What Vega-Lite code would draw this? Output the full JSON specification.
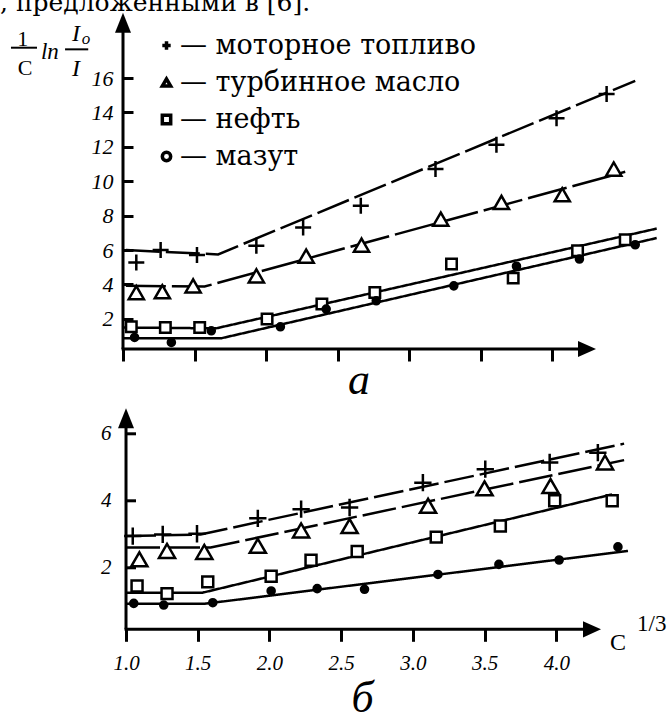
{
  "$schema": "https://vega.github.io/schema/vega-lite/v6.json",
  "padding": {"left": -1, "top": -10, "right": 0, "bottom": -7},
  "spacing": 59.3,
  "bounds": "flush",
  "config": {
    "view": {"stroke": null},
    "axis": {"domain": false, "grid": false, "tickColor": "black", "labelColor": "black", "tickWidth": 3, "title": null},
    "font": "DejaVu Serif"
  },
  "resolve": {"scale": {"shape": "independent", "fill": "independent", "size": "independent", "strokeDash": "independent"}, "legend": {"shape": "independent", "fill": "independent"}},
  "datasets": {
    "pts": [
      {"p": "a", "s": "моторное топливо", "x": 1.093, "y": 5.28},
      {"p": "a", "s": "моторное топливо", "x": 1.263, "y": 6.0},
      {"p": "a", "s": "моторное топливо", "x": 1.517, "y": 5.71},
      {"p": "a", "s": "моторное топливо", "x": 1.932, "y": 6.25},
      {"p": "a", "s": "моторное топливо", "x": 2.259, "y": 7.31},
      {"p": "a", "s": "моторное топливо", "x": 2.662, "y": 8.58},
      {"p": "a", "s": "моторное топливо", "x": 3.184, "y": 10.71},
      {"p": "a", "s": "моторное топливо", "x": 3.61, "y": 12.12},
      {"p": "a", "s": "моторное топливо", "x": 4.03, "y": 13.67},
      {"p": "a", "s": "моторное топливо", "x": 4.38, "y": 15.07},
      {"p": "a", "s": "турбинное масло", "x": 1.093, "y": 3.53},
      {"p": "a", "s": "турбинное масло", "x": 1.275, "y": 3.58},
      {"p": "a", "s": "турбинное масло", "x": 1.49, "y": 3.92},
      {"p": "a", "s": "турбинное масло", "x": 1.932, "y": 4.5},
      {"p": "a", "s": "турбинное масло", "x": 2.28, "y": 5.65},
      {"p": "a", "s": "турбинное масло", "x": 2.667, "y": 6.29},
      {"p": "a", "s": "турбинное масло", "x": 3.221, "y": 7.8},
      {"p": "a", "s": "турбинное масло", "x": 3.645, "y": 8.77},
      {"p": "a", "s": "турбинное масло", "x": 4.07, "y": 9.22},
      {"p": "a", "s": "турбинное масло", "x": 4.43, "y": 10.71},
      {"p": "a", "s": "нефть", "x": 1.058, "y": 1.54},
      {"p": "a", "s": "нефть", "x": 1.296, "y": 1.5},
      {"p": "a", "s": "нефть", "x": 1.536, "y": 1.5},
      {"p": "a", "s": "нефть", "x": 2.007, "y": 1.99},
      {"p": "a", "s": "нефть", "x": 2.39, "y": 2.86},
      {"p": "a", "s": "нефть", "x": 2.76, "y": 3.53},
      {"p": "a", "s": "нефть", "x": 3.296, "y": 5.19},
      {"p": "a", "s": "нефть", "x": 3.727, "y": 4.37},
      {"p": "a", "s": "нефть", "x": 4.177, "y": 5.96},
      {"p": "a", "s": "нефть", "x": 4.51, "y": 6.6},
      {"p": "a", "s": "мазут", "x": 1.081, "y": 0.92},
      {"p": "a", "s": "мазут", "x": 1.338, "y": 0.63},
      {"p": "a", "s": "мазут", "x": 1.617, "y": 1.31},
      {"p": "a", "s": "мазут", "x": 2.1, "y": 1.54},
      {"p": "a", "s": "мазут", "x": 2.42, "y": 2.57},
      {"p": "a", "s": "мазут", "x": 2.77, "y": 3.05},
      {"p": "a", "s": "мазут", "x": 3.312, "y": 3.92},
      {"p": "a", "s": "мазут", "x": 3.75, "y": 5.06},
      {"p": "a", "s": "мазут", "x": 4.19, "y": 5.48},
      {"p": "a", "s": "мазут", "x": 4.58, "y": 6.31},
      {"p": "b", "s": "моторное топливо", "x": 1.047, "y": 2.94},
      {"p": "b", "s": "моторное топливо", "x": 1.256, "y": 2.99},
      {"p": "b", "s": "моторное топливо", "x": 1.495, "y": 3.01},
      {"p": "b", "s": "моторное топливо", "x": 1.919, "y": 3.47},
      {"p": "b", "s": "моторное топливо", "x": 2.221, "y": 3.74},
      {"p": "b", "s": "моторное топливо", "x": 2.559, "y": 3.79},
      {"p": "b", "s": "моторное топливо", "x": 3.07, "y": 4.53},
      {"p": "b", "s": "моторное топливо", "x": 3.505, "y": 4.93},
      {"p": "b", "s": "моторное топливо", "x": 3.954, "y": 5.13},
      {"p": "b", "s": "моторное топливо", "x": 4.29, "y": 5.42},
      {"p": "b", "s": "турбинное масло", "x": 1.093, "y": 2.25},
      {"p": "b", "s": "турбинное масло", "x": 1.286, "y": 2.5},
      {"p": "b", "s": "турбинное масло", "x": 1.546, "y": 2.47},
      {"p": "b", "s": "турбинное масло", "x": 1.919, "y": 2.65},
      {"p": "b", "s": "турбинное масло", "x": 2.221, "y": 3.11},
      {"p": "b", "s": "турбинное масло", "x": 2.559, "y": 3.24},
      {"p": "b", "s": "турбинное масло", "x": 3.106, "y": 3.84},
      {"p": "b", "s": "турбинное масло", "x": 3.5, "y": 4.36},
      {"p": "b", "s": "турбинное масло", "x": 3.96, "y": 4.43},
      {"p": "b", "s": "турбинное масло", "x": 4.34, "y": 5.13},
      {"p": "b", "s": "нефть", "x": 1.077, "y": 1.46},
      {"p": "b", "s": "нефть", "x": 1.286, "y": 1.23},
      {"p": "b", "s": "нефть", "x": 1.57, "y": 1.58},
      {"p": "b", "s": "нефть", "x": 2.012, "y": 1.75},
      {"p": "b", "s": "нефть", "x": 2.29, "y": 2.22},
      {"p": "b", "s": "нефть", "x": 2.612, "y": 2.48},
      {"p": "b", "s": "нефть", "x": 3.163, "y": 2.91},
      {"p": "b", "s": "нефть", "x": 3.61, "y": 3.24},
      {"p": "b", "s": "нефть", "x": 3.989, "y": 3.99},
      {"p": "b", "s": "нефть", "x": 4.39, "y": 3.99},
      {"p": "b", "s": "мазут", "x": 1.054, "y": 0.94},
      {"p": "b", "s": "мазут", "x": 1.263, "y": 0.89},
      {"p": "b", "s": "мазут", "x": 1.605, "y": 0.96},
      {"p": "b", "s": "мазут", "x": 2.012, "y": 1.31},
      {"p": "b", "s": "мазут", "x": 2.333, "y": 1.38},
      {"p": "b", "s": "мазут", "x": 2.663, "y": 1.36},
      {"p": "b", "s": "мазут", "x": 3.175, "y": 1.8},
      {"p": "b", "s": "мазут", "x": 3.6, "y": 2.1},
      {"p": "b", "s": "мазут", "x": 4.02, "y": 2.23},
      {"p": "b", "s": "мазут", "x": 4.43, "y": 2.62}
    ],
    "fits": [
      {"p": "a", "s": "моторное топливо", "x": 1.02, "y": 6.0},
      {"p": "a", "s": "моторное топливо", "x": 1.665, "y": 5.75},
      {"p": "a", "s": "моторное топливо", "x": 4.58, "y": 15.84},
      {"p": "a", "s": "турбинное масло", "x": 1.02, "y": 3.92},
      {"p": "a", "s": "турбинное масло", "x": 1.57, "y": 3.88},
      {"p": "a", "s": "турбинное масло", "x": 4.51, "y": 10.55},
      {"p": "a", "s": "нефть", "x": 1.0, "y": 1.5},
      {"p": "a", "s": "нефть", "x": 1.65, "y": 1.45},
      {"p": "a", "s": "нефть", "x": 4.73, "y": 7.25},
      {"p": "a", "s": "мазут", "x": 1.0, "y": 0.88},
      {"p": "a", "s": "мазут", "x": 1.69, "y": 0.88},
      {"p": "a", "s": "мазут", "x": 4.73, "y": 6.7},
      {"p": "b", "s": "моторное топливо", "x": 1.0, "y": 2.94},
      {"p": "b", "s": "моторное топливо", "x": 1.52, "y": 2.99},
      {"p": "b", "s": "моторное топливо", "x": 4.473, "y": 5.69},
      {"p": "b", "s": "турбинное масло", "x": 1.0, "y": 2.6},
      {"p": "b", "s": "турбинное масло", "x": 1.59, "y": 2.6},
      {"p": "b", "s": "турбинное масло", "x": 4.473, "y": 5.2},
      {"p": "b", "s": "нефть", "x": 1.0, "y": 1.26},
      {"p": "b", "s": "нефть", "x": 1.535, "y": 1.26},
      {"p": "b", "s": "нефть", "x": 4.39, "y": 4.18},
      {"p": "b", "s": "мазут", "x": 1.0, "y": 0.93},
      {"p": "b", "s": "мазут", "x": 1.55, "y": 0.93},
      {"p": "b", "s": "мазут", "x": 4.5, "y": 2.5}
    ]
  },
  "vconcat": [
    {
      "width": 548,
      "height": 348,
      "layer": [
        {
          "data": {"name": "fits"},
          "transform": [{"filter": "datum.p == 'a'"}],
          "mark": {"type": "line", "strokeWidth": 2.5, "color": "black"},
          "encoding": {
            "x": {"field": "x", "type": "quantitative", "scale": {"domain": [1, 4.83], "nice": false, "zero": false},
                  "axis": {"values": [1, 1.5, 2, 2.5, 3, 3.5, 4], "labels": false, "tickSize": 12, "title": null}},
            "y": {"field": "y", "type": "quantitative", "scale": {"domain": [0.25, 20.48], "nice": false, "zero": false},
                  "axis": {"values": [2, 4, 6, 8, 10, 12, 14, 16], "tickSize": -10, "labelPadding": 20, "labelFont": "Liberation Serif", "labelFontStyle": "italic", "labelFontSize": 22, "labelOverlap": false, "title": null}},
            "detail": {"field": "s"},
            "strokeDash": {"field": "s", "type": "nominal", "legend": null,
                           "scale": {"type": "ordinal", "range": [[1, 0], [34, 6], [1, 0], [40, 6]]}}
          }
        },
        {
          "data": {"name": "pts"},
          "transform": [{"filter": "datum.p == 'a'"}],
          "mark": {"type": "point", "filled": false, "color": "black", "stroke": "black", "strokeWidth": 2.5, "opacity": 1},
          "encoding": {
            "x": {"field": "x", "type": "quantitative"},
            "y": {"field": "y", "type": "quantitative"},
            "shape": {"field": "s", "type": "nominal",
                      "scale": {"domain": ["моторное топливо", "турбинное масло", "нефть", "мазут"], "range": ["M-1,0H1M0,-1V1", "triangle-up", "square", "circle"]},
                      "legend": {"orient": "none", "legendX": 30, "legendY": 31, "title": null, "padding": 0, "labelFont": "DejaVu Serif", "labelFontSize": 27, "labelColor": "black", "labelLimit": 0, "labelExpr": "'— ' + datum.label", "symbolStrokeColor": "black", "symbolFillColor": "white", "symbolStrokeWidth": 3.5, "symbolSize": 70, "symbolOpacity": 1, "rowPadding": 9, "labelOffset": 0}},
            "fill": {"field": "s", "type": "nominal", "legend": null,
                     "scale": {"type": "ordinal", "range": ["black", "white", "white", "white"]}},
            "size": {"field": "s", "type": "nominal", "legend": null,
                     "scale": {"type": "ordinal", "range": [50, 256, 110, 230]}}
          }
        },
        {
          "data": {"values": [{}]},
          "mark": {"type": "rule", "strokeWidth": 3, "color": "black"},
          "encoding": {"x": {"datum": 1}, "y": {"datum": 0.25}, "y2": {"datum": 19.0}}
        },
        {
          "data": {"values": [{}]},
          "mark": {"type": "rule", "strokeWidth": 3, "color": "black"},
          "encoding": {"x": {"datum": 0.99}, "x2": {"datum": 4.2}, "y": {"datum": 0.25}}
        },
        {
          "data": {"values": [{}]},
          "mark": {"type": "point", "shape": "M0,0L-0.4,1L0.4,1Z", "size": 1600, "filled": true, "color": "black", "opacity": 1, "strokeWidth": 0},
          "encoding": {"x": {"datum": 1}, "y": {"datum": 19.8}}
        },
        {
          "data": {"values": [{}]},
          "mark": {"type": "point", "shape": "M0,0L-1,-0.45L-1,0.45Z", "size": 1296, "filled": true, "color": "black", "opacity": 1, "strokeWidth": 0},
          "encoding": {"x": {"datum": 4.306}, "y": {"datum": 0.25}}
        },
        {
          "data": {"values": [{}]},
          "mark": {"type": "text", "text": ", предложенными в [6].", "font": "DejaVu Serif", "fontSize": 25, "align": "left", "baseline": "alphabetic", "color": "black"},
          "encoding": {"x": {"datum": 0.1403}, "y": {"datum": 19.9}}
        },
        {
          "data": {"values": [{}]},
          "mark": {"type": "text", "text": "1", "font": "Liberation Serif", "fontSize": 22, "align": "center", "baseline": "middle", "color": "black"},
          "encoding": {"x": {"datum": 0.299}, "y": {"datum": 18.25}}
        },
        {
          "data": {"values": [{}]},
          "mark": {"type": "text", "text": "C", "font": "Liberation Serif", "fontSize": 22, "align": "center", "baseline": "middle", "color": "black"},
          "encoding": {"x": {"datum": 0.315}, "y": {"datum": 16.61}}
        },
        {
          "data": {"values": [{}]},
          "mark": {"type": "text", "text": "ln", "font": "Liberation Serif", "fontStyle": "italic", "fontSize": 23, "align": "center", "baseline": "middle", "color": "black"},
          "encoding": {"x": {"datum": 0.489}, "y": {"datum": 17.51}}
        },
        {
          "data": {"values": [{}]},
          "mark": {"type": "text", "text": "I", "font": "Liberation Serif", "fontStyle": "italic", "fontSize": 24, "align": "center", "baseline": "middle", "color": "black"},
          "encoding": {"x": {"datum": 0.671}, "y": {"datum": 18.56}}
        },
        {
          "data": {"values": [{}]},
          "mark": {"type": "text", "text": "o", "font": "Liberation Serif", "fontStyle": "italic", "fontSize": 17, "align": "center", "baseline": "middle", "color": "black"},
          "encoding": {"x": {"datum": 0.741}, "y": {"datum": 18.30}}
        },
        {
          "data": {"values": [{}]},
          "mark": {"type": "text", "text": "I", "font": "Liberation Serif", "fontStyle": "italic", "fontSize": 24, "align": "center", "baseline": "middle", "color": "black"},
          "encoding": {"x": {"datum": 0.671}, "y": {"datum": 16.55}}
        },
        {
          "data": {"values": [{}]},
          "mark": {"type": "rule", "strokeWidth": 2, "color": "black"},
          "encoding": {"x": {"datum": 0.217}, "x2": {"datum": 0.399}, "y": {"datum": 17.765}}
        },
        {
          "data": {"values": [{}]},
          "mark": {"type": "rule", "strokeWidth": 2, "color": "black"},
          "encoding": {"x": {"datum": 0.595}, "x2": {"datum": 0.757}, "y": {"datum": 17.67}}
        },
        {
          "data": {"values": [{}]},
          "mark": {"type": "text", "text": "а", "font": "Liberation Serif", "fontStyle": "italic", "fontSize": 44, "align": "center", "baseline": "alphabetic", "color": "black"},
          "encoding": {"x": {"datum": 2.649}, "y": {"datum": -2.37}}
        }
      ]
    },
    {
      "width": 548,
      "height": 221,
      "layer": [
        {
          "data": {"name": "fits"},
          "transform": [{"filter": "datum.p == 'b'"}],
          "mark": {"type": "line", "strokeWidth": 2.5, "color": "black"},
          "encoding": {
            "x": {"field": "x", "type": "quantitative", "scale": {"domain": [0.979, 4.8], "nice": false, "zero": false},
                  "axis": {"values": [1, 1.5, 2, 2.5, 3, 3.5, 4], "format": ".1f", "tickSize": 12, "labelPadding": 11, "labelFont": "Liberation Serif", "labelFontStyle": "italic", "labelFontSize": 21, "labelFlush": false, "labelOverlap": false, "title": null}},
            "y": {"field": "y", "type": "quantitative", "scale": {"domain": [0.17, 6.74], "nice": false, "zero": false},
                  "axis": {"values": [2, 4, 6], "tickSize": -10, "labelPadding": 24.5, "offset": -2.5, "labelFont": "Liberation Serif", "labelFontStyle": "italic", "labelFontSize": 21, "labelOverlap": false, "title": null}},
            "detail": {"field": "s"},
            "strokeDash": {"field": "s", "type": "nominal", "legend": null,
                           "scale": {"type": "ordinal", "range": [[1, 0], [30, 6], [1, 0], [34, 6]]}}
          }
        },
        {
          "data": {"name": "pts"},
          "transform": [{"filter": "datum.p == 'b'"}],
          "mark": {"type": "point", "filled": false, "color": "black", "stroke": "black", "strokeWidth": 2.5, "opacity": 1},
          "encoding": {
            "x": {"field": "x", "type": "quantitative"},
            "y": {"field": "y", "type": "quantitative"},
            "shape": {"field": "s", "type": "nominal", "legend": null,
                      "scale": {"domain": ["моторное топливо", "турбинное масло", "нефть", "мазут"], "range": ["M-1,0H1M0,-1V1", "triangle-up", "square", "circle"]}},
            "fill": {"field": "s", "type": "nominal", "legend": null,
                     "scale": {"type": "ordinal", "range": ["black", "white", "white", "white"]}},
            "size": {"field": "s", "type": "nominal", "legend": null,
                     "scale": {"type": "ordinal", "range": [50, 300, 120, 260]}}
          }
        },
        {
          "data": {"values": [{}]},
          "mark": {"type": "rule", "strokeWidth": 3, "color": "black"},
          "encoding": {"x": {"datum": 1}, "y": {"datum": 0.17}, "y2": {"datum": 6.3}}
        },
        {
          "data": {"values": [{}]},
          "mark": {"type": "rule", "strokeWidth": 3, "color": "black"},
          "encoding": {"x": {"datum": 0.99}, "x2": {"datum": 4.2}, "y": {"datum": 0.17}}
        },
        {
          "data": {"values": [{}]},
          "mark": {"type": "point", "shape": "M0,0L-0.4,1L0.4,1Z", "size": 1600, "filled": true, "color": "black", "opacity": 1, "strokeWidth": 0},
          "encoding": {"x": {"datum": 1}, "y": {"datum": 6.74}}
        },
        {
          "data": {"values": [{}]},
          "mark": {"type": "point", "shape": "M0,0L-1,-0.45L-1,0.45Z", "size": 1296, "filled": true, "color": "black", "opacity": 1, "strokeWidth": 0},
          "encoding": {"x": {"datum": 4.312}, "y": {"datum": 0.17}}
        },
        {
          "data": {"values": [{}]},
          "mark": {"type": "text", "text": "C", "font": "Liberation Serif", "fontSize": 24, "align": "center", "baseline": "alphabetic", "color": "black"},
          "encoding": {"x": {"datum": 4.43}, "y": {"datum": -0.445}}
        },
        {
          "data": {"values": [{}]},
          "mark": {"type": "text", "text": "1/3", "font": "Liberation Serif", "fontSize": 23, "align": "left", "baseline": "alphabetic", "color": "black"},
          "encoding": {"x": {"datum": 4.563}, "y": {"datum": 0.12}}
        },
        {
          "data": {"values": [{}]},
          "mark": {"type": "text", "text": "б", "font": "Liberation Serif", "fontStyle": "italic", "fontSize": 44, "align": "center", "baseline": "alphabetic", "color": "black"},
          "encoding": {"x": {"datum": 2.65}, "y": {"datum": -2.29}}
        }
      ]
    }
  ]
}
